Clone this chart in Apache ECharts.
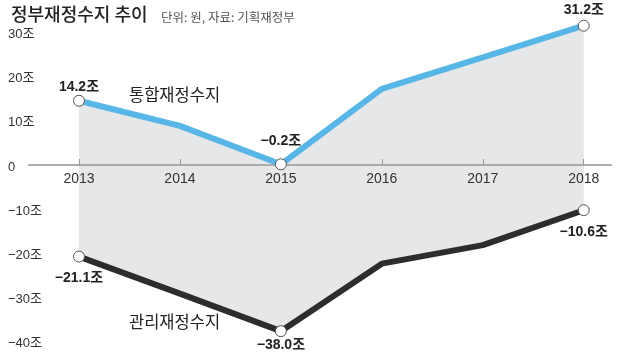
<!DOCTYPE html>
<html><head><meta charset="utf-8">
<script src="https://cdn.jsdelivr.net/npm/echarts@6/dist/echarts.min.js"></script>
<style>html,body{margin:0;padding:0;background:#fff}#c{width:620px;height:362px}</style>
</head><body><div id="c"></div>
<script>
const years = [2013, 2014, 2015, 2016, 2017, 2018];
const integrated = [14.2, 8.5, -0.2, 16.9, 24.0, 31.2];
const managed = [-21.1, -29.5, -38.0, -22.7, -18.5, -10.6];
const labeledYears = [2013, 2015, 2018];
const yTicks = [-40, -30, -20, -10, 0, 10, 20, 30];
const titleText = '정부재정수지 추이';
const subText = '단위: 원, 자료: 기획재정부';
const nameIntegrated = '통합재정수지';
const nameManaged = '관리재정수지';

const numFont = '"Liberation Sans Narrow","Liberation Sans","Noto Sans CJK KR",sans-serif';
const krFont = '"Noto Sans CJK KR",sans-serif';
const fmt = v => (v < 0 ? '\u2212' + Math.abs(v).toFixed(1) : v.toFixed(1)) + '조';

function lineData(vals, pos, dists) {
  return years.map((y, i) => {
    const k = labeledYears.indexOf(y);
    const on = k >= 0;
    return {
      value: [y, vals[i]],
      symbol: on ? 'circle' : 'none',
      label: on ? {show: true, position: pos, distance: dists[k]} : {show: false}
    };
  });
}

const chart = echarts.init(document.getElementById('c'), null, {renderer: 'canvas'});
chart.setOption({
  animation: false,
  grid: {left: 29, right: 9, top: 31, bottom: 22, containLabel: false},
  title: [
    {text: titleText, left: 6, top: 0, textStyle: {fontFamily: krFont, fontSize: 18, fontWeight: 500, color: '#222'}},
    {text: subText, left: 156, top: 6, textStyle: {fontFamily: krFont, fontSize: 12.5, fontWeight: 'normal', color: '#555'}}
  ],
  xAxis: {
    type: 'value', min: 2012.505, max: 2018.27, z: 3,
    offset: -175,
    splitLine: {show: false},
    axisLine: {onZero: false, lineStyle: {color: '#aaa', width: 2}},
    axisTick: {show: true, inside: true, length: 6, customValues: years, lineStyle: {color: '#999', width: 1}},
    axisLabel: {customValues: years, margin: 7, fontFamily: numFont, fontSize: 14, color: '#333', formatter: v => String(v)}
  },
  yAxis: {
    type: 'value', min: -40, max: 30, interval: 10,
    splitLine: {show: false}, axisLine: {show: false}, axisTick: {show: false},
    axisLabel: {
      align: 'left', verticalAlign: 'top', lineHeight: 7, margin: 21,
      fontFamily: numFont, fontSize: 13, color: '#333',
      customValues: yTicks,
      formatter: v => v === 0 ? '0' : (v < 0 ? '\u2212' + Math.abs(v) : v) + '조'
    }
  },
  series: [
    {
      type: 'custom', z: 1, silent: true, clip: false,
      data: years.map((y, i) => [y, integrated[i], managed[i]]),
      encode: {x: 0, y: [1, 2]},
      renderItem: function (params, api) {
        if (params.dataIndex !== 0) return null;
        const top = years.map((y, i) => api.coord([y, integrated[i]]));
        const bot = years.map((y, i) => api.coord([y, managed[i]])).reverse();
        return {type: 'polygon', shape: {points: top.concat(bot)}, style: {fill: '#e6e7e9'}};
      }
    },
    {
      type: 'line', name: nameIntegrated, z: 5, clip: false,
      data: lineData(integrated, 'top', [1, 10, 3]),
      lineStyle: {color: '#58b6e6', width: 6},
      itemStyle: {color: '#fff', borderColor: '#555', borderWidth: 1},
      symbolSize: 11,
      label: {formatter: p => fmt(p.value[1]), fontFamily: numFont, fontSize: 14, fontWeight: 'bold', color: '#222'}
    },
    {
      type: 'line', name: nameManaged, z: 5, clip: false,
      data: lineData(managed, 'bottom', [9, 1, 9]),
      lineStyle: {color: '#2d2d2d', width: 6},
      itemStyle: {color: '#fff', borderColor: '#555', borderWidth: 1},
      symbolSize: 11,
      label: {formatter: p => fmt(p.value[1]), fontFamily: numFont, fontSize: 14, fontWeight: 'bold', color: '#222'}
    }
  ],
  graphic: [
    {type: 'text', left: 129, top: 86, z: 10, style: {text: nameIntegrated, fontFamily: krFont, fontSize: 16.5, fill: '#222'}},
    {type: 'text', left: 129, top: 313, z: 10, style: {text: nameManaged, fontFamily: krFont, fontSize: 16.5, fill: '#222'}}
  ]
});
</script></body></html>
